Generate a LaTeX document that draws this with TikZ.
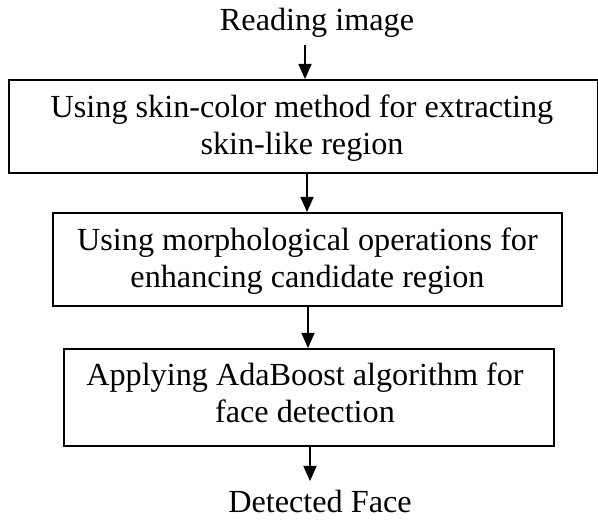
\documentclass[tikz,border=0pt]{standalone}
\usepackage{fontspec}
\setmainfont{Liberation Serif}
\usetikzlibrary{arrows.meta}
\begin{document}
\begin{tikzpicture}[x=1pt,y=-1pt,
  box/.style={draw,line width=1.6pt,inner sep=0pt,anchor=north west},
  txt/.style={inner sep=0pt,align=center,anchor=north,
    font=\fontsize{32.2}{37}\selectfont,
    execute at begin node={\rule{0pt}{25pt}}},
  lbl/.style={inner sep=0pt,anchor=base,font=\fontsize{32.2}{37}\selectfont},
  arr/.style={line width=1.6pt,-{Triangle[width=13pt,length=15pt]}}]
\useasboundingbox (0,0) rectangle (598,521);
% labels
\node[lbl] (start) at (317,31) {Reading image};
\node[lbl] (finish) at (320,513) {Detected Face};
% boxes
\node[box,minimum width=589pt,minimum height=93pt] (b1) at (8,79) {};
\node[box,minimum width=509pt,minimum height=93pt] (b2) at (52,212) {};
\node[box,minimum width=490pt,minimum height=97pt] (b3) at (63,348) {};
% texts
\node[txt] (t1) at (302,95) {Using skin-color method for extracting\\skin-like region};
\node[txt] (t2) at (307.5,228) {Using morphological operations for\\enhancing candidate region};
\node[txt] (t3) at (305,363) {Applying AdaBoost algorithm for\\face detection};
% connectors
\coordinate (a1) at (305,45);
\coordinate (a4) at (310,481);
\draw[arr] (a1) -- (a1 |- b1.north);
\draw[arr] (b1.south -| 307,0) -- (b2.north -| 307,0);
\draw[arr] (b2.south -| 308,0) -- (b3.north -| 308,0);
\draw[arr] (b3.south -| a4) -- (a4);
\end{tikzpicture}
\end{document}
